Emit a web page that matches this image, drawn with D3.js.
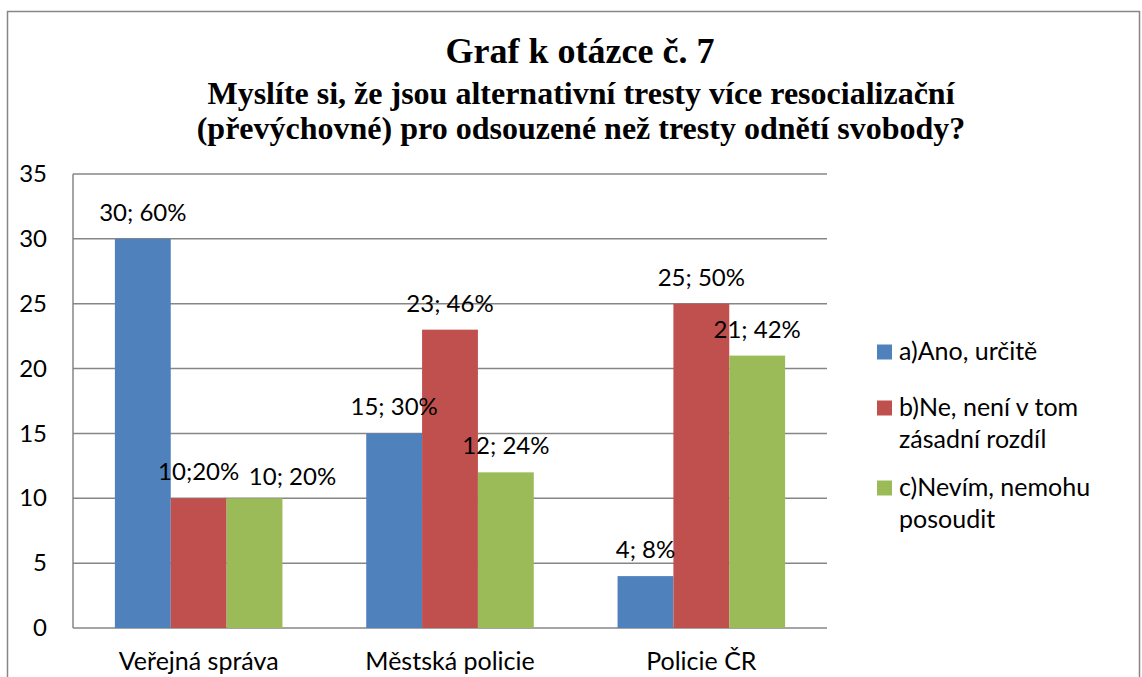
<!DOCTYPE html>
<html>
<head>
<meta charset="utf-8">
<script src="https://cdn.jsdelivr.net/npm/d3@7"></script>
<style>
  body { margin: 0; background: #fff; }
  svg { display: block; }
  .lbl { font-family: Lato, "Open Sans", sans-serif; font-size: 24px; fill: #000; }
  .big { font-size: 25px; }
  .ttl { font-family: "Liberation Serif", serif; font-weight: bold; fill: #000; }
</style>
</head>
<body>
<svg id="chart" width="1142" height="677"></svg>
<script>
// data
var categories = ['Veřejná správa', 'Městská policie', 'Policie ČR'];
var seriesNames = ['a)Ano, určitě', 'b)Ne, není v tom zásadní rozdíl', 'c)Nevím, nemohu posoudit'];
var legendLines = [['a)Ano, určitě'], ['b)Ne, není v tom', 'zásadní rozdíl'], ['c)Nevím, nemohu', 'posoudit']];
var seriesColors = ['#4F81BD', '#C0504D', '#9BBB59'];
var values = [
    [30, 15, 4],   // a
    [10, 23, 25],  // b
    [10, 12, 21]   // c
];
var labels = [
    ['30; 60%', '15; 30%', '4; 8%'],
    ['10;20%', '23; 46%', '25; 50%'],
    ['10; 20%', '12; 24%', '21; 42%']
];
var yTicks = [0, 5, 10, 15, 20, 25, 30, 35];
var titleText = 'Graf k otázce č. 7';
var subtitleLines = ['Myslíte si, že jsou alternativní tresty více resocializační',
                     '(převýchovné) pro odsouzené než tresty odnětí svobody?'];

var svg = d3.select('#chart');
var plot = { left: 73, right: 827, top: 174, bottom: 628 };

// chart border
svg.append('rect')
    .attr('x', 7.5).attr('y', 11.5)
    .attr('width', 1132).attr('height', 700)
    .attr('fill', 'none').attr('stroke', '#868686').attr('stroke-width', 1.5);

// titles
svg.append('text').attr('class', 'ttl')
    .attr('x', 580).attr('y', 63)
    .attr('text-anchor', 'middle')
    .style('font-size', '36px')
    .text(titleText);

svg.selectAll('.sub').data(subtitleLines).enter()
    .append('text').attr('class', 'ttl sub')
    .attr('x', 581).attr('y', function (d, i) { return 104 + i * 35; })
    .attr('text-anchor', 'middle')
    .style('font-size', '32px')
    .text(function (d) { return d; });

var y = d3.scaleLinear().domain([0, 35]).range([plot.bottom, plot.top]);
var x0 = d3.scaleBand().domain(categories).range([plot.left, plot.right])
    .paddingInner(1 / 3).paddingOuter(1 / 6);
var x1 = d3.scaleBand().domain(d3.range(seriesNames.length)).range([0, x0.bandwidth()]);

// grid
svg.append('g').selectAll('line').data(yTicks).enter()
    .append('line')
    .attr('x1', plot.left).attr('x2', plot.right)
    .attr('y1', function (d) { return y(d); }).attr('y2', function (d) { return y(d); })
    .attr('stroke', '#868686').attr('stroke-width', 1.5);

svg.append('line')
    .attr('x1', plot.left).attr('x2', plot.left)
    .attr('y1', plot.top).attr('y2', plot.bottom)
    .attr('stroke', '#868686').attr('stroke-width', 1.5);

// y axis labels
var yAxis = d3.axisLeft(y).tickValues(yTicks).tickSize(0).tickPadding(26);
svg.append('g')
    .attr('transform', 'translate(' + plot.left + ',0)')
    .call(yAxis)
    .call(function (g) {
        g.select('.domain').remove();
        g.attr('font-size', null).attr('font-family', null);
        g.selectAll('text').attr('class', 'lbl');
    });

// x axis labels
var xAxis = d3.axisBottom(x0).tickSize(0).tickPadding(24);
svg.append('g')
    .attr('transform', 'translate(0,' + plot.bottom + ')')
    .call(xAxis)
    .call(function (g) {
        g.select('.domain').remove();
        g.attr('font-size', null).attr('font-family', null);
        g.selectAll('text').attr('class', 'lbl big');
    });

// bars
var cells = [];
values.forEach(function (row, s) {
    row.forEach(function (v, c) {
        cells.push({ s: s, c: c, v: v, label: labels[s][c] });
    });
});

svg.append('g').selectAll('rect').data(cells).enter()
    .append('rect')
    .attr('x', function (d) { return x0(categories[d.c]) + x1(d.s); })
    .attr('y', function (d) { return y(d.v); })
    .attr('width', x1.bandwidth())
    .attr('height', function (d) { return y(0) - y(d.v); })
    .attr('fill', function (d) { return seriesColors[d.s]; });

// data labels (one was dragged aside in the original)
var nudge = { '2-0': [38, 5] };
svg.append('g').selectAll('text').data(cells).enter()
    .append('text').attr('class', 'lbl')
    .attr('text-anchor', 'middle')
    .attr('x', function (d) {
        var n = nudge[d.s + '-' + d.c] || [0, 0];
        return x0(categories[d.c]) + x1(d.s) + x1.bandwidth() / 2 + n[0];
    })
    .attr('y', function (d) {
        var n = nudge[d.s + '-' + d.c] || [0, 0];
        return y(d.v) - 18 + n[1];
    })
    .text(function (d) { return d.label; });

// legend
var legendY = [352, 408, 488];
var leg = svg.append('g').selectAll('g').data(legendLines).enter()
    .append('g')
    .attr('transform', function (d, i) { return 'translate(877,' + legendY[i] + ')'; });

leg.append('rect')
    .attr('x', 0).attr('y', -7.5)
    .attr('width', 15).attr('height', 15)
    .attr('fill', function (d, i) { return seriesColors[i]; });

leg.each(function (lines) {
    var t = d3.select(this).append('text').attr('class', 'lbl big').attr('x', 22).attr('y', 8);
    lines.forEach(function (line, k) {
        t.append('tspan').attr('x', 22).attr('dy', k === 0 ? 0 : 32).text(line);
    });
});
</script>
</body>
</html>
